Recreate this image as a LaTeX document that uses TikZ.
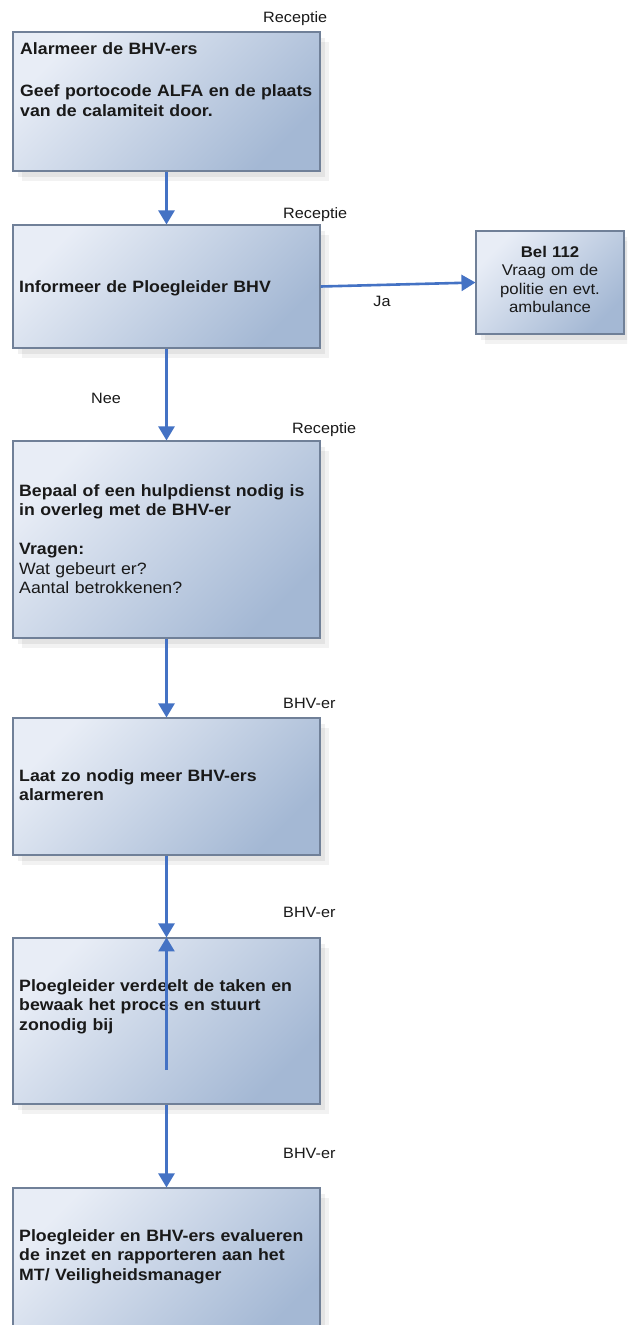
\documentclass[tikz,border=0pt]{standalone}
\usepackage{fontspec}
\setmainfont{Liberation Sans}[FakeStretch=1.08]
\usetikzlibrary{arrows.meta,shadows}
\definecolor{boxlight}{RGB}{232,237,246}
\definecolor{boxdark}{RGB}{164,184,212}
\definecolor{boxline}{RGB}{112,128,152}
\definecolor{flow}{RGB}{68,114,196}
\definecolor{ink}{RGB}{25,25,25}

\begin{document}
\begin{tikzpicture}[x=1pt,y=-1pt,
  stepbox/.style={draw=boxline, line width=1.1pt, top color=boxlight,
    bottom color=boxdark, shading angle=45, inner sep=0,
    drop shadow={shadow xshift=9pt, shadow yshift=-10pt, opacity=0.05, fill=black},
    drop shadow={shadow xshift=5pt, shadow yshift=-6pt, opacity=0.06, fill=black}},
  boxtext/.style={anchor=base west, inner sep=0, align=left, text width=300pt,
    font=\fontsize{16.4}{19.5}\selectfont\bfseries, text=ink},
  role/.style={anchor=base west, inner sep=0, font=\fontsize{15}{18}\selectfont, text=ink},
  tag/.style={anchor=base, inner sep=0, font=\fontsize{15}{18}\selectfont, text=ink},
  arr/.style={draw=flow, line width=2.6pt, -{Triangle[width=16pt,length=14pt]}}]

\useasboundingbox (0,0) rectangle (627,1325);
\fill[white] (0,0) rectangle (627,1325);
\clip (0,0) rectangle (627,1325);

% process boxes
\node[stepbox, minimum width=307pt, minimum height=139pt] (alarm)   at (166.5,101.5) {};
\node[stepbox, minimum width=307pt, minimum height=123pt] (inform)  at (166.5,286.5) {};
\node[stepbox, minimum width=148pt, minimum height=103pt] (call)    at (550,282.5) {};
\node[stepbox, minimum width=307pt, minimum height=197pt] (decide)  at (166.5,539.5) {};
\node[stepbox, minimum width=307pt, minimum height=137pt] (extra)   at (166.5,786.5) {};
\node[stepbox, minimum width=307pt, minimum height=166pt] (lead)    at (166.5,1021) {};
\node[stepbox, minimum width=307pt, minimum height=157pt] (review)  at (166.5,1266.5) {};

% box texts
\node[boxtext] (talarm) at (20,54) {Alarmeer de BHV-ers\\[23pt]
  Geef portocode ALFA en de plaats\\ van de calamiteit door.};
\node[boxtext] (tinform) at (19,292) {Informeer de Ploegleider BHV};
\node[boxtext] (tdecide) at (19,496) {Bepaal of een hulpdienst nodig is\\
  in overleg met de BHV-er\\[19.5pt] Vragen:\\
  {\mdseries Wat gebeurt er?}\\ {\mdseries Aantal betrokkenen?}};
\node[boxtext] (textra) at (19,781) {Laat zo nodig meer BHV-ers\\ alarmeren};
\node[boxtext] (tlead) at (19,991) {Ploegleider verdeelt de taken en\\
  bewaak het proces en stuurt\\ zonodig bij};
\node[boxtext] (treview) at (19,1241) {Ploegleider en BHV-ers evalueren\\
  de inzet en rapporteren aan het\\ MT/ Veiligheidsmanager};
\node[anchor=base, inner sep=0, align=center, text width=146pt, text=ink,
  font=\fontsize{15.5}{18.5}\selectfont] (tcall) at (550,257)
  {\textbf{Bel 112}\\ Vraag om de\\ politie en evt.\\ ambulance};

% role labels
\node[role] (r1) at (263,22) {Receptie};
\node[role] (r2) at (283,218) {Receptie};
\node[role] (r3) at (292,433) {Receptie};
\node[role] (b1) at (283,708) {BHV-er};
\node[role] (b2) at (283,917) {BHV-er};
\node[role] (b3) at (283,1158) {BHV-er};

% connectors
\draw[arr] (alarm.south) -- (inform.north);
\draw[arr] (inform.east) -- (call.west);
\node[tag] (ja) at (382,306) {Ja};
\draw[arr] (inform.south) -- (decide.north);
\node[tag] (nee) at (106,403) {Nee};
\draw[arr] (decide.south) -- (extra.north);
\draw[arr] (extra.south) -- (lead.north);
\coordinate (back) at (166.5,1070);
\draw[arr] (back) -- (lead.north);
\draw[arr] (lead.south) -- (review.north);
\end{tikzpicture}
\end{document}
